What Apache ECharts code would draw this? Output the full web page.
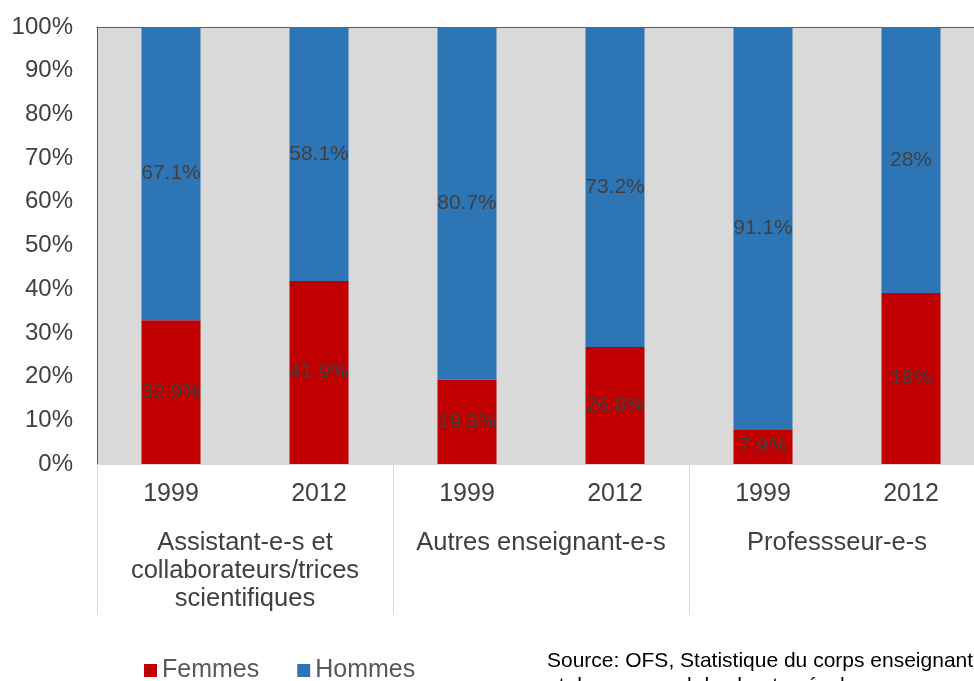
<!DOCTYPE html>
<html>
<head>
<meta charset="utf-8">
<script src="https://cdn.jsdelivr.net/npm/echarts@6/dist/echarts.min.js"></script>
<style>
  html, body { margin: 0; padding: 0; background: #fff; overflow: hidden; }
  /* the plot runs a little past the right edge of the window, as in the original */
  #chart { width: 985px; height: 681px; }
</style>
</head>
<body>
<div id="chart"></div>
<script>
var years = ['1999', '2012', '1999', '2012', '1999', '2012'];
var groups = ['Assistant-e-s et\ncollaborateurs/trices\nscientifiques', 'Autres enseignant-e-s', 'Professseur-e-s'];
// values as printed on the bars
var femmes = [32.9, 41.9, 19.3, 26.8, 7.9, 18];
var hommes = [67.1, 58.1, 80.7, 73.2, 91.1, 28];
var yTicks = [0, 10, 20, 30, 40, 50, 60, 70, 80, 90, 100];

var font = '"Liberation Sans", Arial, sans-serif';

// 100% stacked: each bar is scaled to its own total
var share = function (list, i) {
  return list[i] / (femmes[i] + hommes[i]) * 100;
};

var makeSeries = function (name, list, color) {
  return {
    name: name,
    type: 'bar',
    stack: 'total',
    barWidth: 59,
    itemStyle: { color: color },
    label: {
      show: true,
      position: 'inside',
      color: '#404040',
      fontFamily: font,
      fontSize: 21,
      formatter: function (p) { return list[p.dataIndex] + '%'; }
    },
    data: list.map(function (v, i) { return share(list, i); })
  };
};

var chart = echarts.init(document.getElementById('chart'));
chart.setOption({
  animation: false,
  textStyle: { fontFamily: font },
  grid: {
    left: 97, top: 27, right: 0, bottom: 217,
    show: true,
    backgroundColor: '#d9d9d9',
    borderWidth: 0
  },
  legend: {
    left: 139, top: 653,
    itemWidth: 13, itemHeight: 13, itemGap: 38,
    icon: 'rect',
    textStyle: { color: '#595959', fontSize: 25, fontFamily: font },
    data: ['Femmes', 'Hommes']
  },
  xAxis: [{
    type: 'category',
    data: years,
    position: 'bottom',
    axisLine: { lineStyle: { color: '#d9d9d9', width: 1 } },
    axisTick: { show: false },
    axisLabel: { color: '#404040', fontSize: 25, fontFamily: font, margin: 18, interval: 0 }
  }, {
    type: 'category',
    data: groups,
    position: 'bottom',
    offset: 0,
    axisLine: { show: false },
    axisTick: { show: true, length: 151, lineStyle: { color: '#d9d9d9', width: 1 } },
    axisLabel: {
      color: '#404040', fontSize: 25.5, fontFamily: font, margin: 65, interval: 0,
      hideOverlap: false, lineHeight: 28, align: 'center', verticalAlign: 'top'
    }
  }, {
    // dark frame line along the top of the plot
    type: 'category',
    data: years,
    position: 'top',
    axisLine: { lineStyle: { color: '#595959', width: 1 } },
    axisTick: { show: false },
    axisLabel: { show: false }
  }],
  yAxis: {
    type: 'value',
    min: yTicks[0], max: yTicks[yTicks.length - 1], interval: 10,
    axisLine: { show: true, lineStyle: { color: '#595959', width: 1 } },
    axisTick: { show: false },
    splitLine: { show: false },
    axisLabel: {
      color: '#404040', fontSize: 24, fontFamily: font, margin: 24,
      formatter: '{value}%'
    }
  },
  graphic: [{
    type: 'text',
    left: 547, top: 649,
    style: {
      text: 'Source: OFS, Statistique du corps enseignant\net du personnel des hautes écoles',
      fill: '#000', fontSize: 21, fontFamily: font, lineHeight: 25
    }
  }],
  series: [
    makeSeries('Femmes', femmes, '#C00000'),
    makeSeries('Hommes', hommes, '#2E75B6')
  ]
});
</script>
</body>
</html>
